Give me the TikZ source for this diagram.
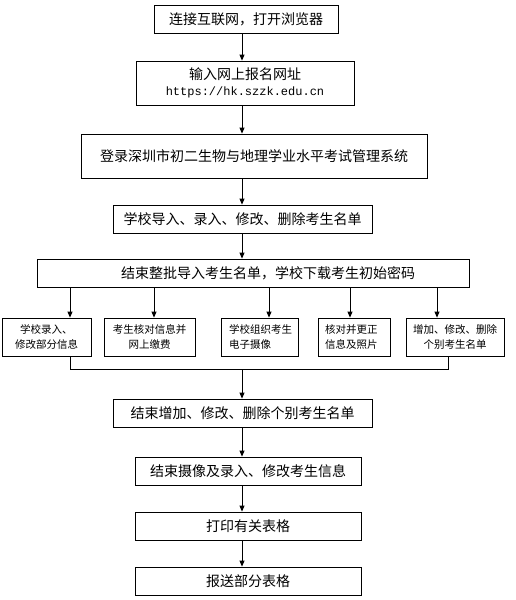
\documentclass[tikz,border=0pt]{standalone}
\usepackage{fontspec}
\setmainfont{Noto Sans CJK SC}
\newfontfamily\urlmono{Liberation Mono}
\usetikzlibrary{arrows.meta}
\begin{document}
\begin{tikzpicture}[x=1pt,y=-1pt,
  mainbox/.style={draw,line width=0.8pt,inner sep=0pt,font=\fontsize{14}{18}\selectfont,align=center},
  smallbox/.style={draw,line width=0.8pt,inner sep=0pt,minimum height=38pt,font=\fontsize{10.5}{15}\selectfont},
  arr/.style={line width=0.8pt,-{Triangle[length=6pt,width=5pt]}},
  conn/.style={line width=0.8pt}]
\useasboundingbox (0,0) rectangle (516,600);
\coordinate (spine) at (242,0);
\node[mainbox,minimum width=184pt,minimum height=28pt] (b1) at (246,19) {连接互联网，打开浏览器};
\node[mainbox,minimum width=218pt,minimum height=44pt] (b2) at (245,83) {输入网上报名网址\\[-2pt]{\urlmono\fontsize{12}{14}\selectfont https://hk.szzk.edu.cn}};
\node[mainbox,minimum width=346pt,minimum height=44pt] (b3) at (254,156) {登录深圳市初二生物与地理学业水平考试管理系统};
\node[mainbox,minimum width=259pt,minimum height=28pt] (b4) at (242.5,219) {学校导入、录入、修改、删除考生名单};
\node[mainbox,minimum width=432pt,minimum height=28pt] (b5) at (253,273) {\hspace*{30pt}结束整批导入考生名单，学校下载考生初始密码};
\node[smallbox,minimum width=89pt,align=center] (sa) at (46.5,337) {学校录入、\\修改部分信息};
\node[smallbox,minimum width=91pt,align=center] (sb) at (149.5,337) {考生核对信息并\\网上缴费};
\node[smallbox,minimum width=77pt,text width=61pt,align=left] (sc) at (259.5,337) {学校组织考生\\电子摄像};
\node[smallbox,minimum width=72pt,text width=58pt,align=left] (sd) at (354,337) {核对并更正\\信息及照片};
\node[smallbox,minimum width=98pt,align=center] (se) at (455,337) {增加、修改、删除\\个别考生名单};
\node[mainbox,minimum width=259pt,minimum height=28pt] (b6) at (242.5,413) {结束增加、修改、删除个别考生名单};
\node[mainbox,minimum width=226pt,minimum height=28pt] (b7) at (248,471) {结束摄像及录入、修改考生信息};
\node[mainbox,minimum width=226pt,minimum height=28pt] (b8) at (248,526) {打印有关表格};
\node[mainbox,minimum width=226pt,minimum height=28pt] (b9) at (248,581) {报送部分表格};
% spine arrows
\draw[arr] (b1.south -| spine) -- (b2.north -| spine);
\draw[arr] (b2.south -| spine) -- (b3.north -| spine);
\draw[arr] (b3.south -| spine) -- (b4.north -| spine);
\draw[arr] (b4.south -| spine) -- (b5.north -| spine);
% branch arrows
\coordinate (xa) at (70,0);
\coordinate (xb) at (154,0);
\coordinate (xc) at (269,0);
\coordinate (xd) at (350,0);
\coordinate (xe) at (437,0);
\draw[arr] (b5.south -| xa) -- (sa.north -| xa);
\draw[arr] (b5.south -| xb) -- (sb.north -| xb);
\draw[arr] (b5.south -| xc) -- (sc.north -| xc);
\draw[arr] (b5.south -| xd) -- (sd.north -| xd);
\draw[arr] (b5.south -| xe) -- (se.north -| xe);
% merge
\coordinate (ja) at (70,369);
\coordinate (je) at (448,369);
\coordinate (jm) at (242,369);
\draw[conn] (sa.south -| ja) -- (ja) -- (je) -- (se.south -| je);
\draw[arr] (jm) -- (b6.north -| jm);
\draw[arr] (b6.south -| spine) -- (b7.north -| spine);
\draw[arr] (b7.south -| spine) -- (b8.north -| spine);
\draw[arr] (b8.south -| spine) -- (b9.north -| spine);
\end{tikzpicture}
\end{document}
